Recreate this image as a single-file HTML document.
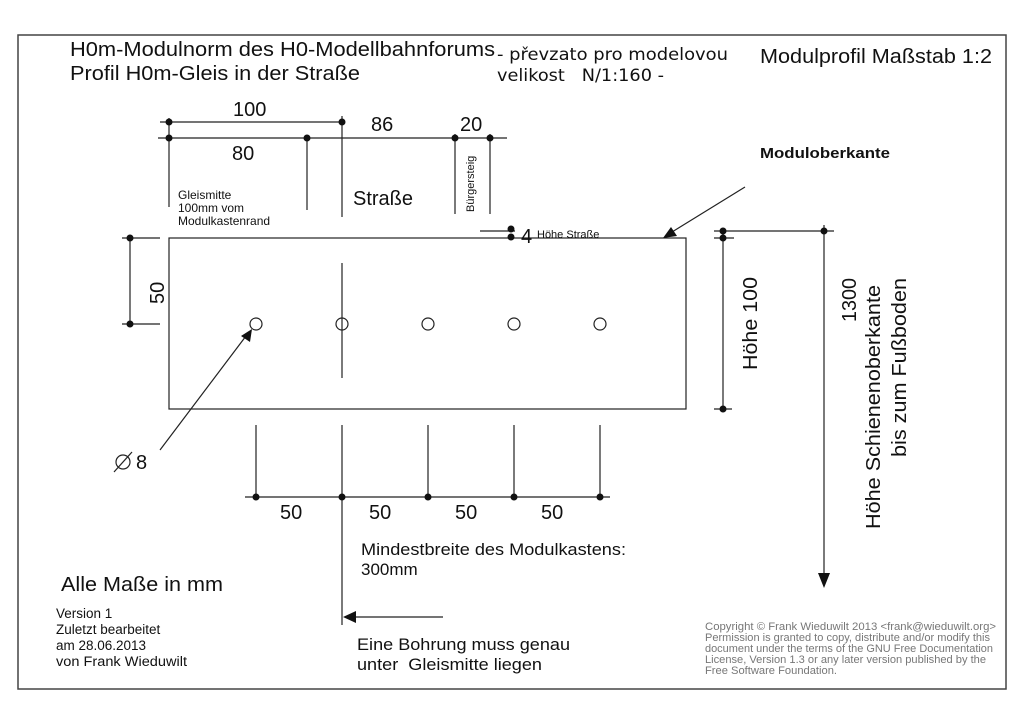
<!DOCTYPE html>
<html><head><meta charset="utf-8"><style>
html,body{margin:0;padding:0;background:#fff;}
svg{display:block;}
text{font-family:"Liberation Sans",sans-serif;fill:#111;}
.dv{font-family:"DejaVu Sans",sans-serif;}
.cp{fill:#777;}
</style></head><body>
<svg width="1024" height="724" viewBox="0 0 1024 724" xmlns="http://www.w3.org/2000/svg">
<rect x="18" y="35" width="988" height="654" fill="none" stroke="#444" stroke-width="1.5"/>
<g font-size="20">
<text x="70" y="56" textLength="425" lengthAdjust="spacingAndGlyphs">H0m-Modulnorm des H0-Modellbahnforums</text>
<text x="70" y="80" textLength="290" lengthAdjust="spacingAndGlyphs">Profil H0m-Gleis in der Straße</text>
<text x="760" y="63" textLength="232" lengthAdjust="spacingAndGlyphs">Modulprofil Maßstab 1:2</text>
</g>
<text class="dv" x="497" y="60" font-size="17" textLength="231" lengthAdjust="spacingAndGlyphs">- převzato pro modelovou</text>
<text class="dv" x="497" y="81" font-size="17" textLength="167" lengthAdjust="spacingAndGlyphs" xml:space="preserve">velikost   N/1:160 -</text>
<g stroke="#222" stroke-width="1.2" fill="none">
<rect x="169" y="238" width="517" height="171"/>
<line x1="342" y1="263" x2="342" y2="378"/>
<circle cx="256" cy="324" r="6"/><circle cx="342" cy="324" r="6"/><circle cx="428" cy="324" r="6"/><circle cx="514" cy="324" r="6"/><circle cx="600" cy="324" r="6"/>
<line x1="160" y1="122" x2="342" y2="122"/>
<line x1="158" y1="138" x2="507" y2="138"/>
<line x1="169" y1="118" x2="169" y2="207"/>
<line x1="307" y1="138" x2="307" y2="210"/>
<line x1="342" y1="116" x2="342" y2="217"/>
<line x1="455" y1="134" x2="455" y2="214"/>
<line x1="490" y1="134" x2="490" y2="214"/>
<line x1="480" y1="231" x2="515" y2="231"/>
<line x1="122" y1="238" x2="160" y2="238"/>
<line x1="122" y1="324" x2="160" y2="324"/>
<line x1="130" y1="238" x2="130" y2="324"/>
<line x1="714" y1="231" x2="834" y2="231"/>
<line x1="714" y1="238" x2="734" y2="238"/>
<line x1="723" y1="231" x2="723" y2="409"/>
<line x1="714" y1="409" x2="732" y2="409"/>
<line x1="824" y1="225" x2="824" y2="575"/>
<line x1="256" y1="425" x2="256" y2="497"/>
<line x1="342" y1="425" x2="342" y2="625"/>
<line x1="428" y1="425" x2="428" y2="497"/>
<line x1="514" y1="425" x2="514" y2="497"/>
<line x1="600" y1="425" x2="600" y2="497"/>
<line x1="245" y1="497" x2="610" y2="497"/>
<line x1="443" y1="617" x2="352" y2="617"/>
<line x1="160" y1="450" x2="246" y2="336"/>
<line x1="745" y1="187" x2="672" y2="232"/>
<circle cx="123" cy="462" r="7"/><line x1="114" y1="472" x2="132" y2="452"/>
</g>
<g fill="#111">
<polygon points="824,588 818,573 830,573"/>
<polygon points="343,617 356,611 356,623"/>
<polygon points="252,329 250,342 241,336"/>
<polygon points="663,238 671,227 677,236"/>
<circle cx="169" cy="122" r="3.5"/><circle cx="342" cy="122" r="3.5"/>
<circle cx="169" cy="138" r="3.5"/><circle cx="307" cy="138" r="3.5"/><circle cx="455" cy="138" r="3.5"/><circle cx="490" cy="138" r="3.5"/>
<circle cx="511" cy="229" r="3.5"/><circle cx="511" cy="237" r="3.5"/>
<circle cx="130" cy="238" r="3.5"/><circle cx="130" cy="324" r="3.5"/>
<circle cx="723" cy="231" r="3.5"/><circle cx="723" cy="238" r="3.5"/><circle cx="824" cy="231" r="3.5"/><circle cx="723" cy="409" r="3.5"/>
<circle cx="256" cy="497" r="3.5"/><circle cx="342" cy="497" r="3.5"/><circle cx="428" cy="497" r="3.5"/><circle cx="514" cy="497" r="3.5"/><circle cx="600" cy="497" r="3.5"/>
</g>
<g font-size="20">
<text x="233" y="116">100</text>
<text x="371" y="131">86</text>
<text x="460" y="131">20</text>
<text x="232" y="160">80</text>
<text x="353" y="205">Straße</text>
<text x="521" y="243">4</text>
<text x="136" y="469">8</text>
<text x="280" y="519">50</text>
<text x="369" y="519">50</text>
<text x="455" y="519">50</text>
<text x="541" y="519">50</text>
<text x="61" y="591" textLength="162" lengthAdjust="spacingAndGlyphs">Alle Maße in mm</text>
<text transform="translate(164,304) rotate(-90)">50</text>
<text transform="translate(757,370) rotate(-90)" textLength="93" lengthAdjust="spacingAndGlyphs">Höhe 100</text>
<text transform="translate(856,322) rotate(-90)" textLength="44" lengthAdjust="spacingAndGlyphs">1300</text>
<text transform="translate(880,529) rotate(-90)" textLength="244" lengthAdjust="spacingAndGlyphs">Höhe Schienenoberkante</text>
<text transform="translate(906,457) rotate(-90)" textLength="179" lengthAdjust="spacingAndGlyphs">bis zum Fußboden</text>
</g>
<g font-size="12">
<text x="178" y="199">Gleismitte</text>
<text x="178" y="212">100mm vom</text>
<text x="178" y="225">Modulkastenrand</text>
<text x="537" y="238" font-size="11">Höhe Straße</text>
<text transform="translate(474,212) rotate(-90)" font-size="11">Bürgersteig</text>
</g>
<g font-size="13.5">
<text x="56" y="618">Version 1</text>
<text x="56" y="634">Zuletzt bearbeitet</text>
<text x="56" y="650">am 28.06.2013</text>
<text x="56" y="666" textLength="131" lengthAdjust="spacingAndGlyphs">von Frank Wieduwilt</text>
</g>
<text x="760" y="158" font-size="15" font-weight="bold" textLength="130" lengthAdjust="spacingAndGlyphs">Moduloberkante</text>
<g font-size="17">
<text x="361" y="555" textLength="265" lengthAdjust="spacingAndGlyphs">Mindestbreite des Modulkastens:</text>
<text x="361" y="575">300mm</text>
<text x="357" y="650" textLength="213" lengthAdjust="spacingAndGlyphs">Eine Bohrung muss genau</text>
<text x="357" y="670" textLength="185" lengthAdjust="spacingAndGlyphs" xml:space="preserve">unter  Gleismitte liegen</text>
</g>
<g font-size="11">
<text class="cp" x="705" y="630" textLength="291" lengthAdjust="spacingAndGlyphs">Copyright © Frank Wieduwilt 2013 &lt;frank@wieduwilt.org&gt;</text>
<text class="cp" x="705" y="641" textLength="285" lengthAdjust="spacingAndGlyphs">Permission is granted to copy, distribute and/or modify this</text>
<text class="cp" x="705" y="652" textLength="288" lengthAdjust="spacingAndGlyphs">document under the terms of the GNU Free Documentation</text>
<text class="cp" x="705" y="663" textLength="281" lengthAdjust="spacingAndGlyphs">License, Version 1.3 or any later version published by the</text>
<text class="cp" x="705" y="674" textLength="132" lengthAdjust="spacingAndGlyphs">Free Software Foundation.</text>
</g>
</svg>
</body></html>
